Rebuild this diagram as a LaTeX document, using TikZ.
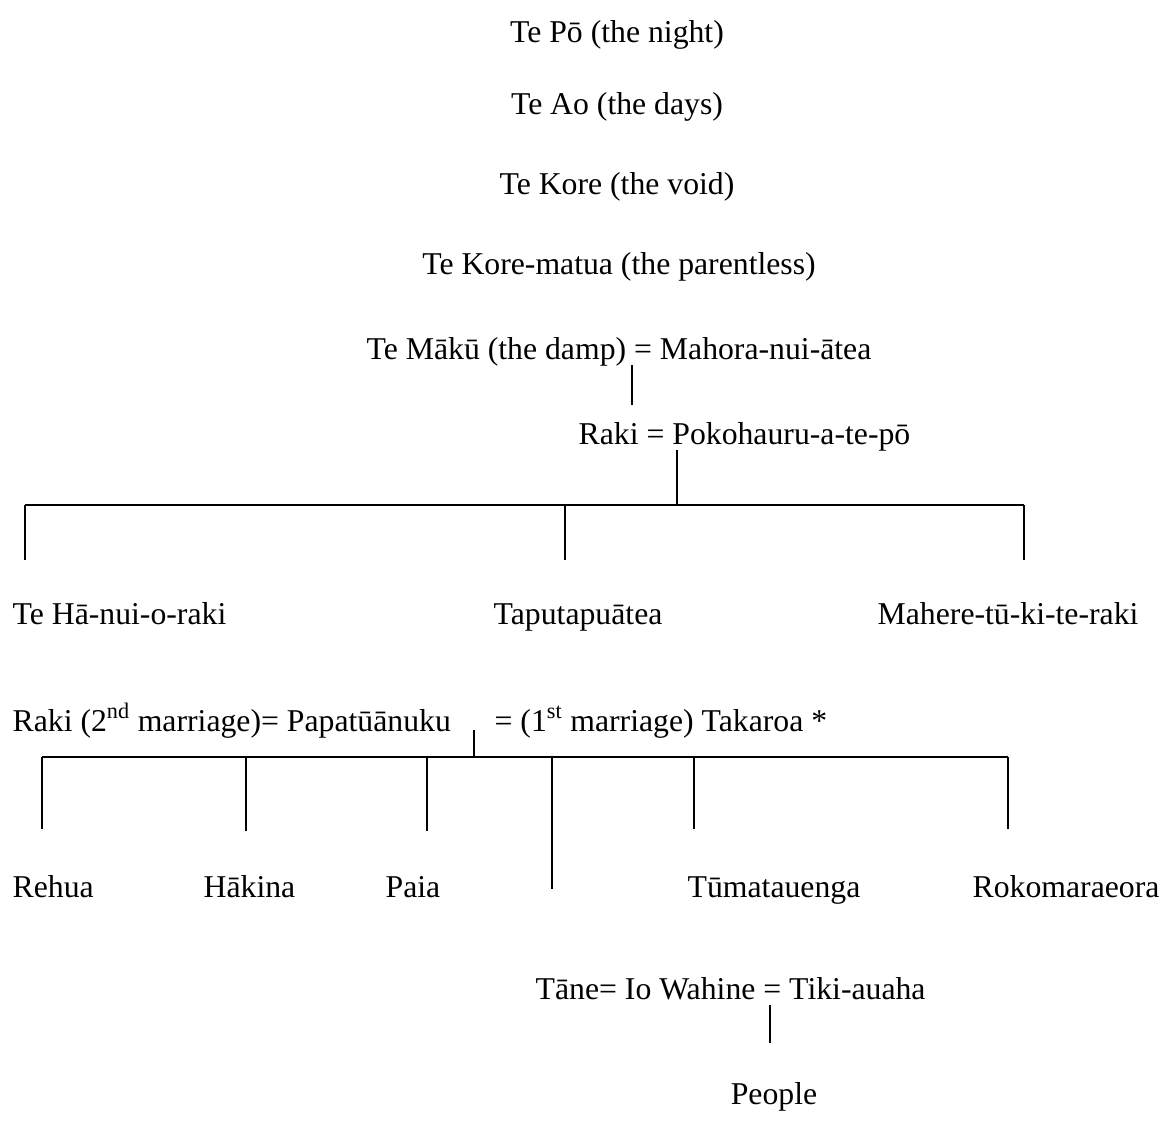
\documentclass[tikz,border=0pt]{standalone}
\usepackage{fontspec}
\setmainfont{Liberation Serif}

\begin{document}
\begin{tikzpicture}[x=0.75pt,y=-0.75pt,line width=1pt,every node/.style={inner sep=0pt,anchor=base west,font=\fontsize{23.8}{28}\selectfont}]
\useasboundingbox (0,0) rectangle (1167,1133);

\node[anchor=base] (po) at (617,42) {Te Pō (the night)};
\node[anchor=base] (ao) at (617,114) {Te Ao (the days)};
\node[anchor=base] (kore) at (617,194) {Te Kore (the void)};
\node[anchor=base] (korematua) at (619,274) {Te Kore-matua (the parentless)};

\node (maku) at (366,359) {Te Mākū (the damp) = Mahora-nui-ātea};
\node (raki) at (578,444) {Raki = Pokohauru-a-te-pō};

\node (hanui) at (12,624) {Te Hā-nui-o-raki};
\node (taputapu) at (493,624) {Taputapuātea};
\node (mahere) at (877,624) {Mahere-tū-ki-te-raki};

\node (papa) at (12,731) {Raki (2\textsuperscript{nd} marriage)= Papatūānuku};
\node (takaroa) at (494,731) {= (1\textsuperscript{st} marriage) Takaroa *};

\node (rehua) at (12,897) {Rehua};
\node (hakina) at (203,897) {Hākina};
\node (paia) at (385,897) {Paia};
\node (tuma) at (687,897) {Tūmatauenga};
\node (roko) at (972,897) {Rokomaraeora};

\node (tane) at (535,999) {Tāne= Io Wahine = Tiki-auaha};
\node[anchor=base] (people) at (774,1104) {People};

% first family
\coordinate (m1) at (632,365);
\coordinate (m2) at (632,405);
\draw (m1) -- (m2);

\coordinate (r1) at (677,450);
\coordinate (r2) at (677,505);
\coordinate (b1) at (25,505);
\coordinate (b2) at (565,505);
\coordinate (b3) at (1024,505);
\draw (r1) -- (r2);
\draw (b1) -- (b3);
\draw (b1) -- (25,560);
\draw (b2) -- (565,560);
\draw (b3) -- (1024,560);

% second family
\coordinate (p1) at (474,730);
\coordinate (p2) at (474,757);
\coordinate (c1) at (42,757);
\coordinate (c2) at (246,757);
\coordinate (c3) at (427,757);
\coordinate (c4) at (552,757);
\coordinate (c5) at (694,757);
\coordinate (c6) at (1008,757);
\draw (p1) -- (p2);
\draw (c1) -- (c6);
\draw (c1) -- (42,829);
\draw (c2) -- (246,831);
\draw (c3) -- (427,831);
\draw (c4) -- (552,889);
\draw (c5) -- (694,829);
\draw (c6) -- (1008,829);

% people
\coordinate (t1) at (770,1005);
\coordinate (t2) at (770,1043);
\draw (t1) -- (t2);
\end{tikzpicture}
\end{document}
